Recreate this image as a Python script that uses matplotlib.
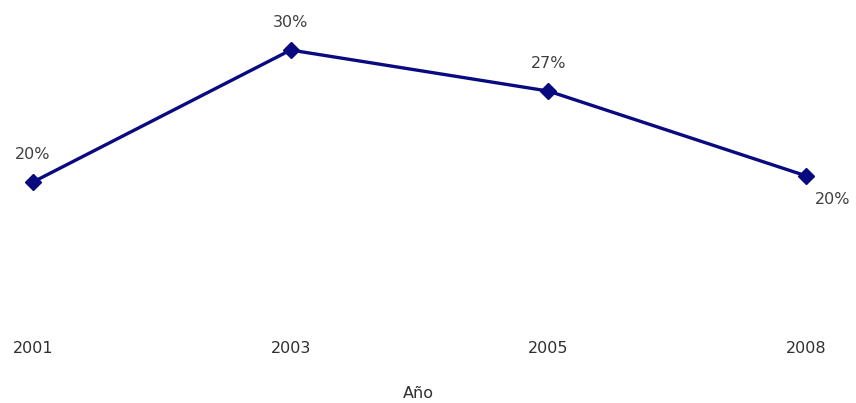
import matplotlib.pyplot as plt

years = ['2001', '2003', '2005', '2008']
values = [20.35, 30.0, 27.0, 20.8]
labels = ['20%', '30%', '27%', '20%']

plt.rcParams['font.family'] = ['DejaVu Sans']

fig = plt.figure(figsize=(8.56, 4.03), dpi=100)
ax = fig.add_axes([0.0386, 0.181, 0.903, 0.819])

x = list(range(len(years)))
ax.plot(x, values, color='#0a0a80', linewidth=2.4, marker='D', markersize=8,
        clip_on=False)

# percent labels: above for most points, below-right for the last
for i, (v, lab) in enumerate(zip(values, labels)):
    if i == len(values) - 1:
        ax.annotate(lab, (i, v), xytext=(19.5, -17), textcoords='offset points',
                    ha='center', va='center', fontsize=11.5, color='#404040',
                    annotation_clip=False)
    else:
        ax.annotate(lab, (i, v), xytext=(0, 20), textcoords='offset points',
                    ha='center', va='center', fontsize=11.5, color='#404040',
                    annotation_clip=False)

ax.set_xlim(0, 3)
ax.set_ylim(9.52, 33.66)
ax.set_xticks(x)
ax.set_xticklabels(years, fontsize=11.5, color='#303030')
ax.tick_params(axis='x', length=0, pad=8)
ax.set_yticks([])
for s in ax.spines.values():
    s.set_visible(False)

fig.text(418 / 856, 1 - 393 / 403, 'Año', ha='center', va='center',
         fontsize=11.5, color='#303030')

fig.savefig('out.png', dpi=100)
